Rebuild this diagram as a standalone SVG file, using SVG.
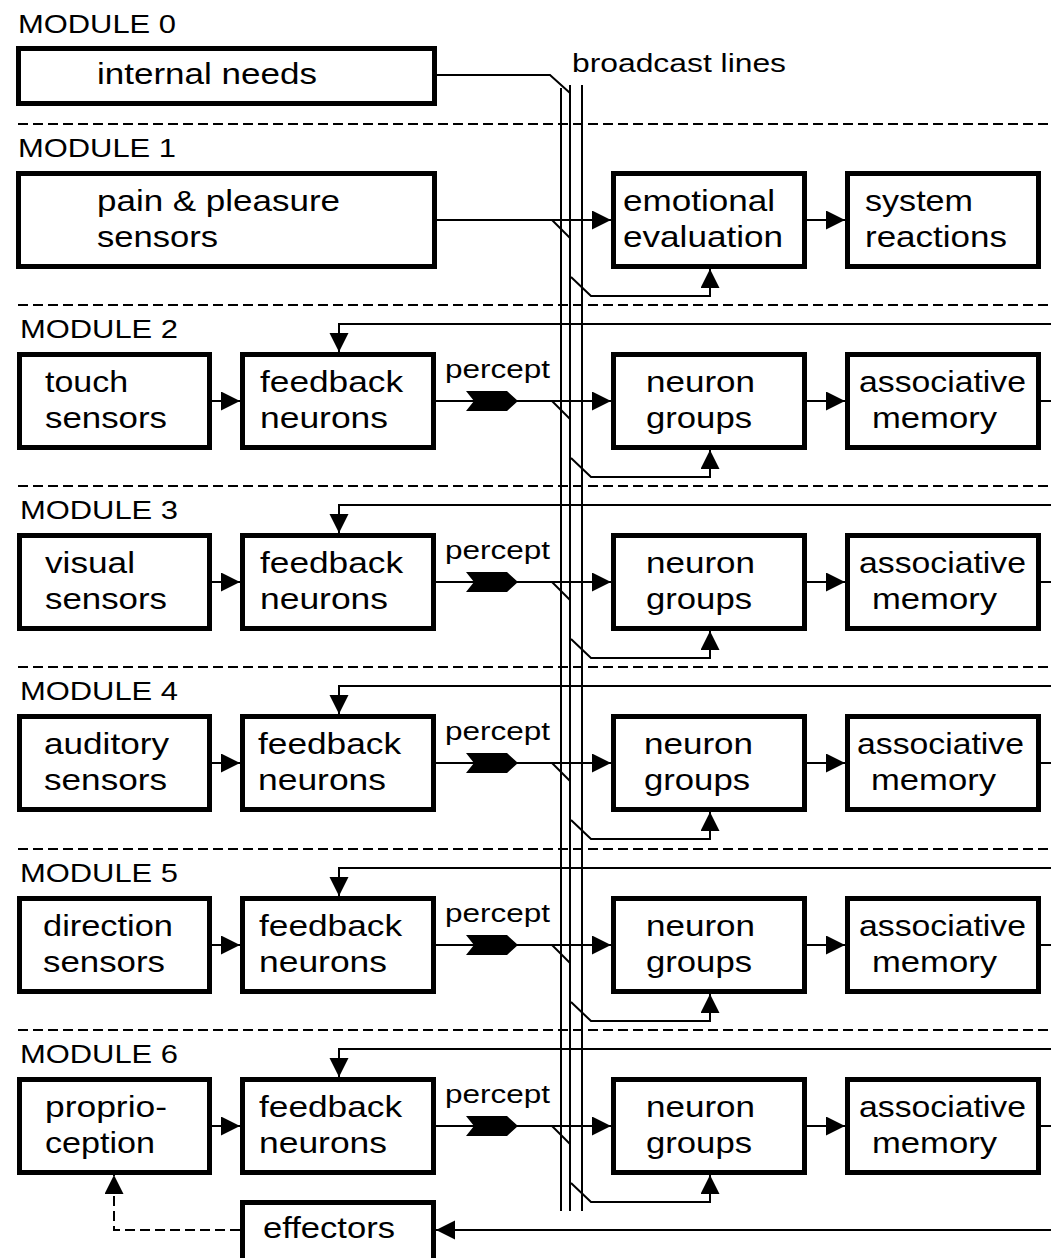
<svg xmlns="http://www.w3.org/2000/svg" width="1051" height="1258" viewBox="0 0 1051 1258">
<defs>
<style>
.box{fill:#fff;stroke:#000;stroke-width:5}
.t{font-family:"Liberation Sans",Arial,sans-serif;font-size:30px;fill:#000}
.s{font-size:25px}
.ln{fill:none;stroke:#000;stroke-width:2}
.dl{fill:none;stroke:#000;stroke-width:2;stroke-dasharray:10 5}
.ar{marker-end:url(#ah)}
.pc{fill:#000;stroke:none}
</style>
<marker id="ah" markerUnits="userSpaceOnUse" markerWidth="20" markerHeight="20" viewBox="0 0 20 20" refX="19" refY="9.5" orient="auto"><path d="M0,0 L19,9.5 L0,19 z" fill="#000"/></marker>
</defs>
<rect width="1051" height="1258" fill="#fff"/>

<g id="separators">
<path class="dl" d="M18,124 H1051 M18,305 H1051 M18,486 H1051 M18,667 H1051 M18,849 H1051 M18,1030 H1051"/>
</g>

<g id="module-labels" class="t s">
<text x="18" y="33" textLength="158" lengthAdjust="spacingAndGlyphs">MODULE 0</text>
<text x="18" y="157" textLength="158" lengthAdjust="spacingAndGlyphs">MODULE 1</text>
<text x="20" y="338" textLength="158" lengthAdjust="spacingAndGlyphs">MODULE 2</text>
<text x="20" y="519" textLength="158" lengthAdjust="spacingAndGlyphs">MODULE 3</text>
<text x="20" y="700" textLength="158" lengthAdjust="spacingAndGlyphs">MODULE 4</text>
<text x="20" y="882" textLength="158" lengthAdjust="spacingAndGlyphs">MODULE 5</text>
<text x="20" y="1063" textLength="158" lengthAdjust="spacingAndGlyphs">MODULE 6</text>
<text x="572" y="72" textLength="214" lengthAdjust="spacingAndGlyphs">broadcast lines</text>
<text x="445" y="378" textLength="105" lengthAdjust="spacingAndGlyphs">percept</text>
<text x="445" y="559" textLength="105" lengthAdjust="spacingAndGlyphs">percept</text>
<text x="445" y="740" textLength="105" lengthAdjust="spacingAndGlyphs">percept</text>
<text x="445" y="922" textLength="105" lengthAdjust="spacingAndGlyphs">percept</text>
<text x="445" y="1103" textLength="105" lengthAdjust="spacingAndGlyphs">percept</text>
</g>

<g id="connectors">
<path class="ln" d="M561,88 V1211 M570,85 V1211 M582,85 V1211"/>
<path class="ln" d="M437,75 H550 L570,93"/>
<path class="ln ar" d="M437,220 H611"/>
<path class="ln" d="M552,220 L570,238"/>
<path class="ln ar" d="M571,277 L591,296 H710 V269"/>
<path class="ln ar" d="M807,220 H845"/>
<path class="ln ar" d="M212,401 H240"/>
<path class="ln ar" d="M436,401 H611"/>
<path class="ln" d="M552,401 L570,419"/>
<path class="ln ar" d="M571,458 L591,477 H710 V450"/>
<path class="ln ar" d="M807,401 H845"/>
<path class="ln" d="M1041,401 H1051"/>
<path class="ln ar" d="M1051,324 H339 V352"/>
<path class="ln ar" d="M212,582 H240"/>
<path class="ln ar" d="M436,582 H611"/>
<path class="ln" d="M552,582 L570,600"/>
<path class="ln ar" d="M571,639 L591,658 H710 V631"/>
<path class="ln ar" d="M807,582 H845"/>
<path class="ln" d="M1041,582 H1051"/>
<path class="ln ar" d="M1051,505 H339 V533"/>
<path class="ln ar" d="M212,763 H240"/>
<path class="ln ar" d="M436,763 H611"/>
<path class="ln" d="M552,763 L570,781"/>
<path class="ln ar" d="M571,820 L591,839 H710 V812"/>
<path class="ln ar" d="M807,763 H845"/>
<path class="ln" d="M1041,763 H1051"/>
<path class="ln ar" d="M1051,686 H339 V714"/>
<path class="ln ar" d="M212,945 H240"/>
<path class="ln ar" d="M436,945 H611"/>
<path class="ln" d="M552,945 L570,963"/>
<path class="ln ar" d="M571,1002 L591,1021 H710 V994"/>
<path class="ln ar" d="M807,945 H845"/>
<path class="ln" d="M1041,945 H1051"/>
<path class="ln ar" d="M1051,868 H339 V896"/>
<path class="ln ar" d="M212,1126 H240"/>
<path class="ln ar" d="M436,1126 H611"/>
<path class="ln" d="M552,1126 L570,1144"/>
<path class="ln ar" d="M571,1183 L591,1202 H710 V1175"/>
<path class="ln ar" d="M807,1126 H845"/>
<path class="ln" d="M1041,1126 H1051"/>
<path class="ln ar" d="M1051,1049 H339 V1077"/>
<path class="ln ar" d="M1051,1230 H436"/>
<path class="dl ar" d="M240,1230 H114 V1175"/>
<path class="pc" d="M466,391 H507 L518,401 L507,411 H466 L474,401 Z"/>
<path class="pc" d="M466,572 H507 L518,582 L507,592 H466 L474,582 Z"/>
<path class="pc" d="M466,753 H507 L518,763 L507,773 H466 L474,763 Z"/>
<path class="pc" d="M466,935 H507 L518,945 L507,955 H466 L474,945 Z"/>
<path class="pc" d="M466,1116 H507 L518,1126 L507,1136 H466 L474,1126 Z"/>
</g>

<g id="internal-needs"><rect class="box" x="18.5" y="48.5" width="416" height="55"/><text class="t" x="97" y="84" textLength="220" lengthAdjust="spacingAndGlyphs">internal needs</text></g>

<g id="pain-pleasure"><rect class="box" x="18.5" y="173.5" width="416" height="93"/><text class="t" x="97" y="211" textLength="243" lengthAdjust="spacingAndGlyphs">pain &amp; pleasure</text><text class="t" x="97" y="247" textLength="121" lengthAdjust="spacingAndGlyphs">sensors</text></g>
<g id="emotional-evaluation"><rect class="box" x="613.5" y="173.5" width="191" height="93"/><text class="t" x="623" y="211" textLength="152" lengthAdjust="spacingAndGlyphs">emotional</text><text class="t" x="623" y="247" textLength="160" lengthAdjust="spacingAndGlyphs">evaluation</text></g>
<g id="system-reactions"><rect class="box" x="847.5" y="173.5" width="191" height="93"/><text class="t" x="865" y="211" textLength="108" lengthAdjust="spacingAndGlyphs">system</text><text class="t" x="865" y="247" textLength="142" lengthAdjust="spacingAndGlyphs">reactions</text></g>

<g id="touch-sensors"><rect class="box" x="19.5" y="354.5" width="190" height="93"/><text class="t" x="45" y="392" textLength="83" lengthAdjust="spacingAndGlyphs">touch</text><text class="t" x="45" y="428" textLength="122" lengthAdjust="spacingAndGlyphs">sensors</text></g>
<g id="feedback-2"><rect class="box" x="242.5" y="354.5" width="191" height="93"/><text class="t" x="260" y="392" textLength="143" lengthAdjust="spacingAndGlyphs">feedback</text><text class="t" x="260" y="428" textLength="128" lengthAdjust="spacingAndGlyphs">neurons</text></g>
<g id="neuron-groups-2"><rect class="box" x="613.5" y="354.5" width="191" height="93"/><text class="t" x="646" y="392" textLength="109" lengthAdjust="spacingAndGlyphs">neuron</text><text class="t" x="646" y="428" textLength="106" lengthAdjust="spacingAndGlyphs">groups</text></g>
<g id="assoc-2"><rect class="box" x="847.5" y="354.5" width="191" height="93"/><text class="t" x="859" y="392" textLength="167" lengthAdjust="spacingAndGlyphs">associative</text><text class="t" x="872" y="428" textLength="125" lengthAdjust="spacingAndGlyphs">memory</text></g>

<g id="visual-sensors"><rect class="box" x="19.5" y="535.5" width="190" height="93"/><text class="t" x="45" y="573" textLength="90" lengthAdjust="spacingAndGlyphs">visual</text><text class="t" x="45" y="609" textLength="122" lengthAdjust="spacingAndGlyphs">sensors</text></g>
<g id="feedback-3"><rect class="box" x="242.5" y="535.5" width="191" height="93"/><text class="t" x="260" y="573" textLength="143" lengthAdjust="spacingAndGlyphs">feedback</text><text class="t" x="260" y="609" textLength="128" lengthAdjust="spacingAndGlyphs">neurons</text></g>
<g id="neuron-groups-3"><rect class="box" x="613.5" y="535.5" width="191" height="93"/><text class="t" x="646" y="573" textLength="109" lengthAdjust="spacingAndGlyphs">neuron</text><text class="t" x="646" y="609" textLength="106" lengthAdjust="spacingAndGlyphs">groups</text></g>
<g id="assoc-3"><rect class="box" x="847.5" y="535.5" width="191" height="93"/><text class="t" x="859" y="573" textLength="167" lengthAdjust="spacingAndGlyphs">associative</text><text class="t" x="872" y="609" textLength="125" lengthAdjust="spacingAndGlyphs">memory</text></g>

<g id="auditory-sensors"><rect class="box" x="19.5" y="716.5" width="190" height="93"/><text class="t" x="44" y="754" textLength="125" lengthAdjust="spacingAndGlyphs">auditory</text><text class="t" x="44" y="790" textLength="123" lengthAdjust="spacingAndGlyphs">sensors</text></g>
<g id="feedback-4"><rect class="box" x="242.5" y="716.5" width="191" height="93"/><text class="t" x="258" y="754" textLength="143" lengthAdjust="spacingAndGlyphs">feedback</text><text class="t" x="258" y="790" textLength="128" lengthAdjust="spacingAndGlyphs">neurons</text></g>
<g id="neuron-groups-4"><rect class="box" x="613.5" y="716.5" width="191" height="93"/><text class="t" x="644" y="754" textLength="109" lengthAdjust="spacingAndGlyphs">neuron</text><text class="t" x="644" y="790" textLength="106" lengthAdjust="spacingAndGlyphs">groups</text></g>
<g id="assoc-4"><rect class="box" x="847.5" y="716.5" width="191" height="93"/><text class="t" x="857" y="754" textLength="167" lengthAdjust="spacingAndGlyphs">associative</text><text class="t" x="871" y="790" textLength="125" lengthAdjust="spacingAndGlyphs">memory</text></g>

<g id="direction-sensors"><rect class="box" x="19.5" y="898.5" width="190" height="93"/><text class="t" x="43" y="936" textLength="130" lengthAdjust="spacingAndGlyphs">direction</text><text class="t" x="43" y="972" textLength="122" lengthAdjust="spacingAndGlyphs">sensors</text></g>
<g id="feedback-5"><rect class="box" x="242.5" y="898.5" width="191" height="93"/><text class="t" x="259" y="936" textLength="143" lengthAdjust="spacingAndGlyphs">feedback</text><text class="t" x="259" y="972" textLength="128" lengthAdjust="spacingAndGlyphs">neurons</text></g>
<g id="neuron-groups-5"><rect class="box" x="613.5" y="898.5" width="191" height="93"/><text class="t" x="646" y="936" textLength="109" lengthAdjust="spacingAndGlyphs">neuron</text><text class="t" x="646" y="972" textLength="106" lengthAdjust="spacingAndGlyphs">groups</text></g>
<g id="assoc-5"><rect class="box" x="847.5" y="898.5" width="191" height="93"/><text class="t" x="859" y="936" textLength="167" lengthAdjust="spacingAndGlyphs">associative</text><text class="t" x="872" y="972" textLength="125" lengthAdjust="spacingAndGlyphs">memory</text></g>

<g id="proprioception"><rect class="box" x="19.5" y="1079.5" width="190" height="93"/><text class="t" x="45" y="1117" textLength="122" lengthAdjust="spacingAndGlyphs">proprio-</text><text class="t" x="45" y="1153" textLength="110" lengthAdjust="spacingAndGlyphs">ception</text></g>
<g id="feedback-6"><rect class="box" x="242.5" y="1079.5" width="191" height="93"/><text class="t" x="259" y="1117" textLength="143" lengthAdjust="spacingAndGlyphs">feedback</text><text class="t" x="259" y="1153" textLength="128" lengthAdjust="spacingAndGlyphs">neurons</text></g>
<g id="neuron-groups-6"><rect class="box" x="613.5" y="1079.5" width="191" height="93"/><text class="t" x="646" y="1117" textLength="109" lengthAdjust="spacingAndGlyphs">neuron</text><text class="t" x="646" y="1153" textLength="106" lengthAdjust="spacingAndGlyphs">groups</text></g>
<g id="assoc-6"><rect class="box" x="847.5" y="1079.5" width="191" height="93"/><text class="t" x="859" y="1117" textLength="167" lengthAdjust="spacingAndGlyphs">associative</text><text class="t" x="872" y="1153" textLength="125" lengthAdjust="spacingAndGlyphs">memory</text></g>

<g id="effectors"><rect class="box" x="242.5" y="1202.5" width="191" height="70"/><text class="t" x="263" y="1238" textLength="132" lengthAdjust="spacingAndGlyphs">effectors</text></g>
</svg>
